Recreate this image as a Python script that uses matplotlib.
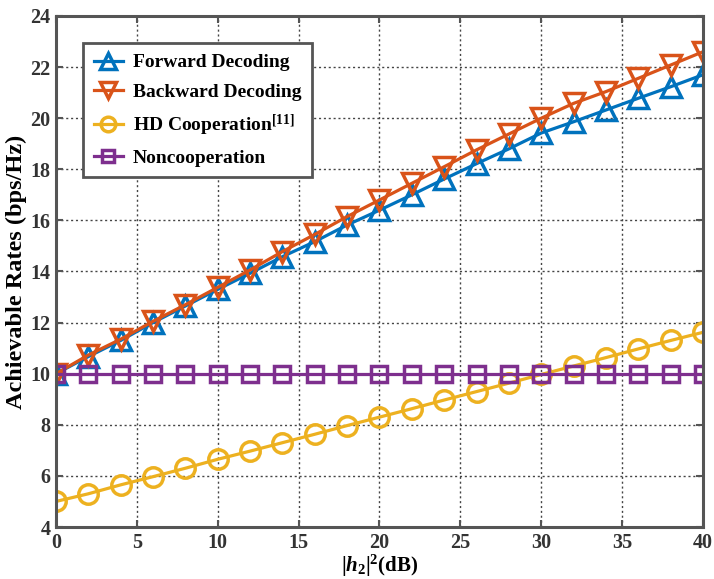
import numpy as np
import matplotlib
matplotlib.use("Agg")
import matplotlib.pyplot as plt

# channel gain |h2|^2 in dB
snr_db = [0, 2, 4, 6, 8, 10, 12, 14, 16, 18, 20, 22, 24, 26, 28, 30, 32, 34, 36, 38, 40]

forward = [10.0, 10.67, 11.3, 12.0, 12.65, 13.3, 13.93, 14.58, 15.17, 15.82, 16.4,
           17.0, 17.62, 18.22, 18.8, 19.42, 19.86, 20.32, 20.78, 21.23, 21.7]
backward = [10.0, 10.73, 11.35, 12.05, 12.7, 13.38, 14.06, 14.78, 15.45, 16.15, 16.8,
            17.45, 18.1, 18.76, 19.38, 20.0, 20.58, 21.04, 21.56, 22.08, 22.6]
hd_coop = [5.0, 5.3, 5.65, 5.97, 6.3, 6.65, 6.97, 7.3, 7.63, 7.97, 8.3,
           8.63, 8.97, 9.3, 9.63, 9.97, 10.3, 10.63, 10.97, 11.3, 11.62]
noncoop = [10.0] * len(snr_db)

labels = ['Forward Decoding', 'Backward Decoding',
          'HD Cooperation$^{[11]}$', 'Noncooperation']

plt.rcParams['font.family'] = 'Liberation Serif'
plt.rcParams['font.weight'] = 'bold'
plt.rcParams['mathtext.fontset'] = 'custom'
plt.rcParams['mathtext.rm'] = 'Liberation Serif:bold'
plt.rcParams['mathtext.it'] = 'Liberation Serif:bold:italic'
plt.rcParams['mathtext.bf'] = 'Liberation Serif:bold'

fig = plt.figure(figsize=(7.14, 5.79), dpi=100)
ax = fig.add_axes([0.0784, 0.0898, 0.9062, 0.8826])

style = dict(linewidth=2.3, markeredgewidth=2.5, markerfacecolor='none')
ax.plot(snr_db, forward, '-^', color='#0072BD', label=labels[0], markersize=15, **style)
ax.plot(snr_db, backward, '-v', color='#D95319', label=labels[1], markersize=15, **style)
ax.plot(snr_db, hd_coop, '-o', color='#EDB120', label=labels[2], markersize=14, **style)
ax.plot(snr_db, noncoop, '-s', color='#7E2F8E', label=labels[3], markersize=11, **style)

ax.set_xlim(0, 40)
ax.set_ylim(4, 24)
ax.set_xticks(np.arange(0, 41, 5))
ax.set_yticks(np.arange(4, 25, 2))
ax.grid(True, linestyle=(0, (1.5, 2)), color='#444444', linewidth=1.0)

for s in ax.spines.values():
    s.set_linewidth(2.2)
    s.set_color('#555555')
ax.tick_params(direction='in', length=5, width=1.5, colors='#555555',
               labelcolor='#333333', labelsize=14.5, pad=4, top=True, right=True)
for t in ax.get_xticklabels() + ax.get_yticklabels():
    t.set_fontweight('bold')

ax.set_ylabel('Achievable Rates (bps/Hz)', fontsize=17.5, fontweight='bold', labelpad=2)
ax.set_xlabel(r'$|\mathit{h_2}|^2$(dB)', fontsize=15, fontweight='bold', labelpad=0)

leg = ax.legend(loc='upper left', bbox_to_anchor=(0.042, 0.947), borderaxespad=0,
                fancybox=False, framealpha=1, edgecolor='#555555',
                handlelength=1.5, handletextpad=0.5, labelspacing=0.6,
                borderpad=0.55, markerscale=0.75,
                prop={'weight': 'bold', 'size': 14})
leg.get_frame().set_linewidth(2.0)

fig.savefig('out.png', dpi=100)
